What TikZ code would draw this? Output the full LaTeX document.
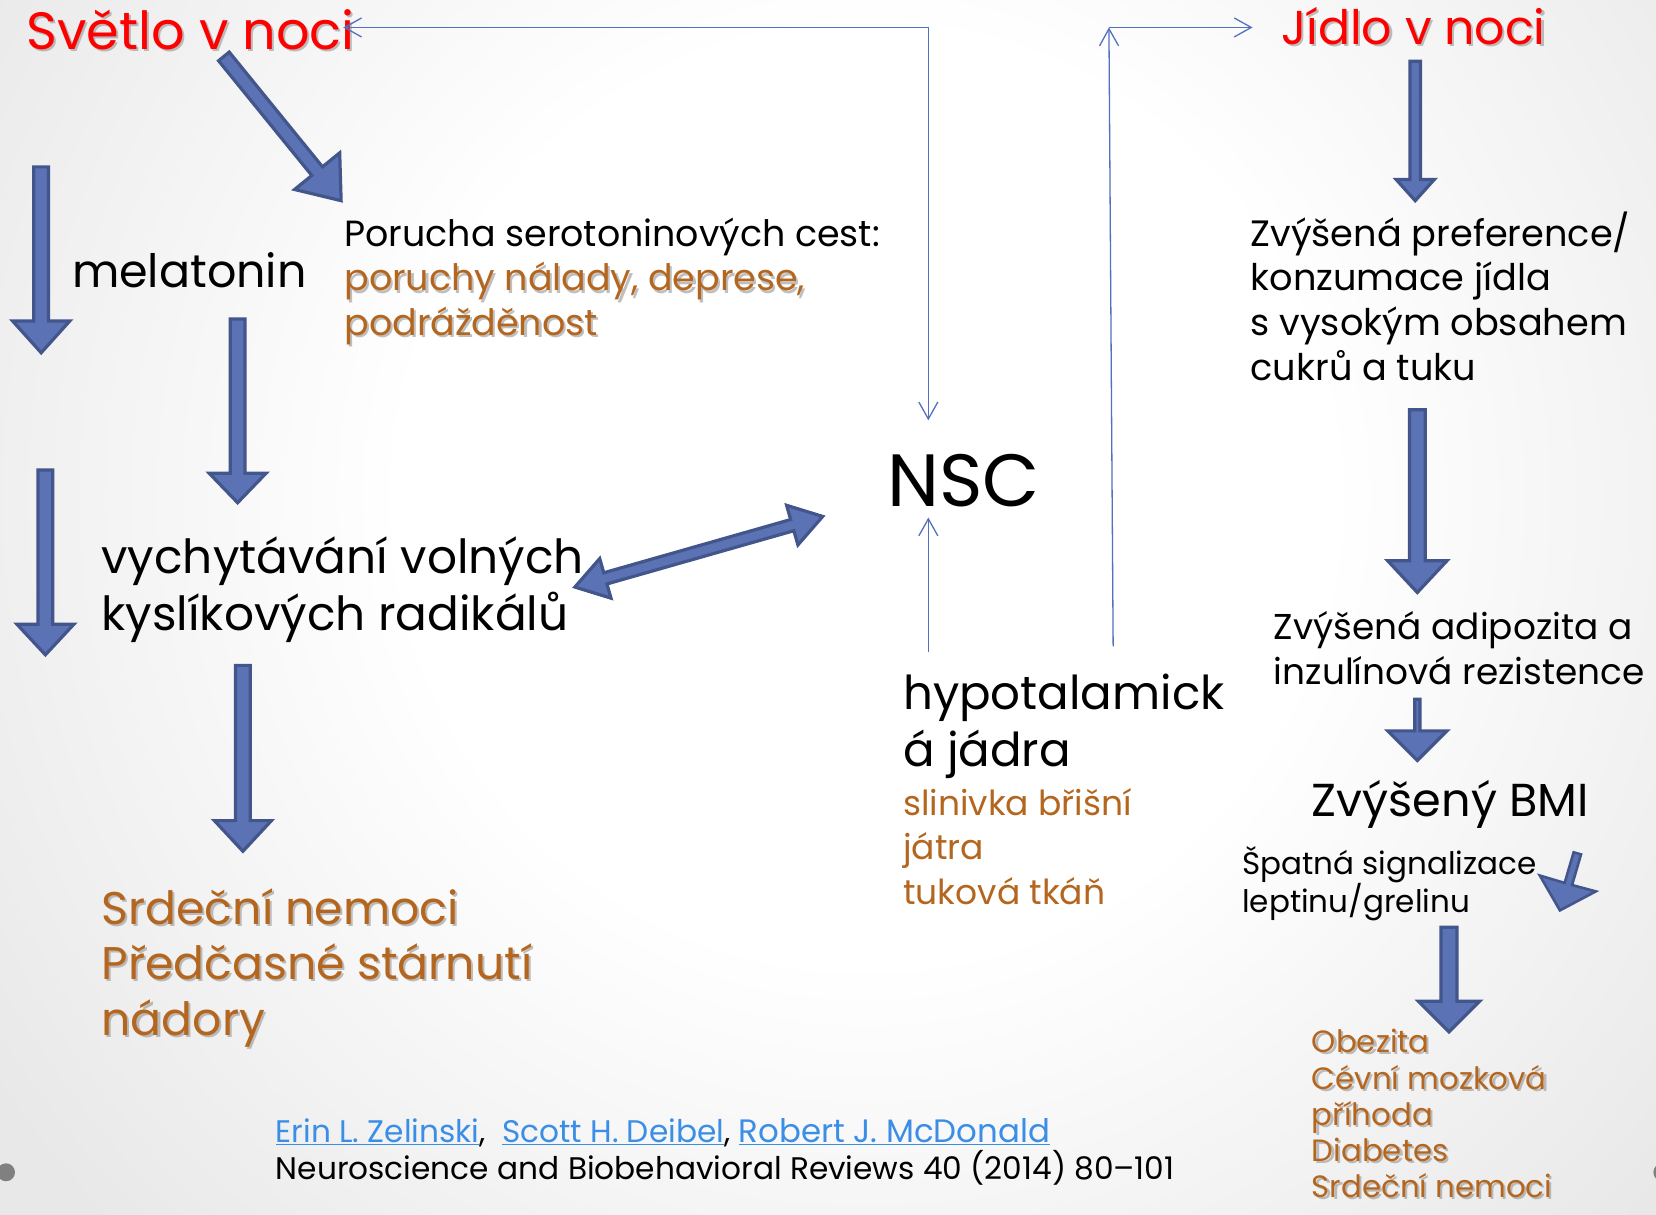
\documentclass[tikz,border=0pt]{standalone}
\usepackage{fontspec}
\setmainfont{Poppins}
\usetikzlibrary{arrows.meta,calc}
\definecolor{bfill}{HTML}{5B72B5}
\definecolor{bline}{HTML}{43568C}
\definecolor{thinc}{HTML}{5270C0}
\definecolor{orng}{HTML}{B4661F}
\definecolor{redt}{HTML}{FF0000}
\definecolor{linkc}{HTML}{3B8EE6}
\pgfdeclareradialshading{bgshade}{\pgfpoint{0bp}{0bp}}{color(0bp)=(white); color(11bp)=(white); color(25bp)=(black!9); color(50bp)=(black!9)}
\tikzset{
  blk/.style={fill=bfill, draw=bline, line width=3.2pt, line join=miter},
  thinline/.style={draw=thinc, line width=1.3pt},
  openhead/.style={-{Straight Barb[length=17pt,width=19pt,line width=1.3pt]}},
  txt/.style={inner sep=0pt, anchor=base west, align=left},
  shd/.style={text=black!45, opacity=0.55},
}
% block arrow: tip x, tip y, angle, length, shaft half, head half, head length
\newcommand\blkarrow[7]{%
  \begin{scope}[shift={(#1,#2)},rotate=#3]
    \filldraw[blk] (-#4,-#5) -- (-#7,-#5) -- (-#7,-#6) -- (0,0) -- (-#7,#6) -- (-#7,#5) -- (-#4,#5) -- cycle;
  \end{scope}}
% text with shadow: name, x, y (baseline of last line), style, text
\newcommand\shtext[5]{%
  \node[txt,#4,shd] at ({#2+2},{#3+2}) {#5};
  \node[txt,#4] (#1) at (#2,#3) {#5};}
\begin{document}
\begin{tikzpicture}[x=1.0561pt,y=-1.0561pt]
\useasboundingbox (0,0) rectangle (1568,1150);
\clip (0,0) rectangle (1568,1150);
\fill[black!9] (0,0) rectangle (1568,1150);
\shade[shading=bgshade] (820,470) circle (1000);
\fill[black!50] (5.7,1110) circle (8.5);
\fill[black!50] (1574,1110) circle (8.5);

% ---------- texts (y = baseline of the last line) ----------
\shtext{svetlo}{25}{47}{text=redt,font=\fontsize{52.5}{60}\selectfont}{Světlo v noci}
\node[txt,font=\fontsize{46}{55}\selectfont] (mel) at (68,272) {melatonin};
\node[txt,font=\fontsize{36.4}{44.9}\selectfont] (por) at (326,233) {Porucha serotoninových cest:};
\shtext{nal}{326}{318}{text=orng,font=\fontsize{36.4}{44.9}\selectfont}{poruchy nálady, deprese,\\podrážděnost}
\node[txt,font=\fontsize{47}{57}\selectfont] (vych) at (96,597) {vychytávání volných\\kyslíkových radikálů};
\node[txt,font=\fontsize{74}{80}\selectfont] (nsc) at (840,480) {NSC};
\shtext{srd}{96}{980}{text=orng,font=\fontsize{45.8}{55.4}\selectfont}{Srdeční nemoci\\Předčasné stárnutí\\nádory}
\node[txt,font=\fontsize{46.7}{57}\selectfont] (hyp) at (855,726) {hypotalamick\\á jádra};
\node[txt,text=orng,font=\fontsize{34.5}{44.4}\selectfont] (slin) at (855,856) {slinivka břišní\\játra\\tuková tkáň};
\shtext{jidlo}{1213}{42}{text=redt,font=\fontsize{47.5}{60}\selectfont}{Jídlo v noci}
\node[txt,font=\fontsize{36.7}{44.7}\selectfont] (pref) at (1184,360) {Zvýšená preference/\\konzumace jídla\\s vysokým obsahem\\cukrů a tuku};
\node[txt,font=\fontsize{35.9}{44.4}\selectfont] (adip) at (1206,648) {Zvýšená adipozita a\\inzulínová rezistence};
\node[txt,font=\fontsize{46.2}{55}\selectfont] (bmi) at (1242,773) {Zvýšený BMI};
\node[txt,font=\fontsize{31}{38}\selectfont] (spat) at (1176,864) {Špatná signalizace\\leptinu/grelinu};
\shtext{obez}{1242}{1134}{text=orng,font=\fontsize{30.8}{36.2}\selectfont}{Obezita\\Cévní mozková\\příhoda\\Diabetes\\Srdeční nemoci}
\node[txt,font=\fontsize{31.2}{37}\selectfont] (cite) at (261,1117) {\textcolor{linkc}{\underline{Erin L. Zelinski}},\ \ \textcolor{linkc}{\underline{Scott H. Deibel}}, \textcolor{linkc}{\underline{\fontsize{32.4}{37}\selectfont Robert J. McDonald}}\\Neuroscience and Biobehavioral Reviews 40 (2014) 80–101};

% ---------- thin connectors ----------
\coordinate (nscT) at (879,398);
\coordinate (nscB) at (879,490);
\coordinate (hypT) at (879,617);
\coordinate (cornL) at (879,26);
\coordinate (svE) at (325,26);
\coordinate (jdB) at (1054,612);
\coordinate (cornR) at (1050,26);
\coordinate (jdW) at (1186,26);
\draw[thinline,openhead] (cornL) -- (nscT);
\draw[thinline,openhead] (cornL) -- (svE);
\draw[thinline,openhead] (hypT) -- (nscB);
\draw[thinline,openhead] (jdB) -- (cornR);
\draw[thinline,openhead] (cornR) -- (jdW);

% ---------- block arrows ----------
\blkarrow{323}{190}{-50.9}{176}{6.5}{27.5}{36}
\blkarrow{39}{334}{-90}{176}{7}{27}{30}
\blkarrow{225}{476}{-90}{174}{7}{27}{28}
\blkarrow{43}{620}{-90}{175}{7}{27}{29}
\blkarrow{230}{806}{-90}{176}{7}{27}{29}
\blkarrow{1340}{190}{-90}{132}{5}{18}{20}
\blkarrow{1342}{561}{-90}{173}{7.5}{28}{30}
\blkarrow{1342}{720}{-90}{58}{2.5}{28}{28}
\blkarrow{1372}{977}{-90}{99}{7.5}{29}{29}
% double arrow
\begin{scope}[shift={(779,489)},rotate=15.9]
  \filldraw[blk] (0,0) -- (-30,19.5) -- (-30,5.5) -- (-214,5.5) -- (-214,19.5) -- (-244,0) -- (-214,-19.5) -- (-214,-5.5) -- (-30,-5.5) -- (-30,-19.5) -- cycle;
\end{scope}
% small skewed arrow
\filldraw[blk, line width=2.6pt] (1490,807) -- (1497,809) -- (1488.5,838) -- (1511,844) -- (1477,862) -- (1458,829) -- (1481.5,836) -- cycle;
\end{tikzpicture}
\end{document}
